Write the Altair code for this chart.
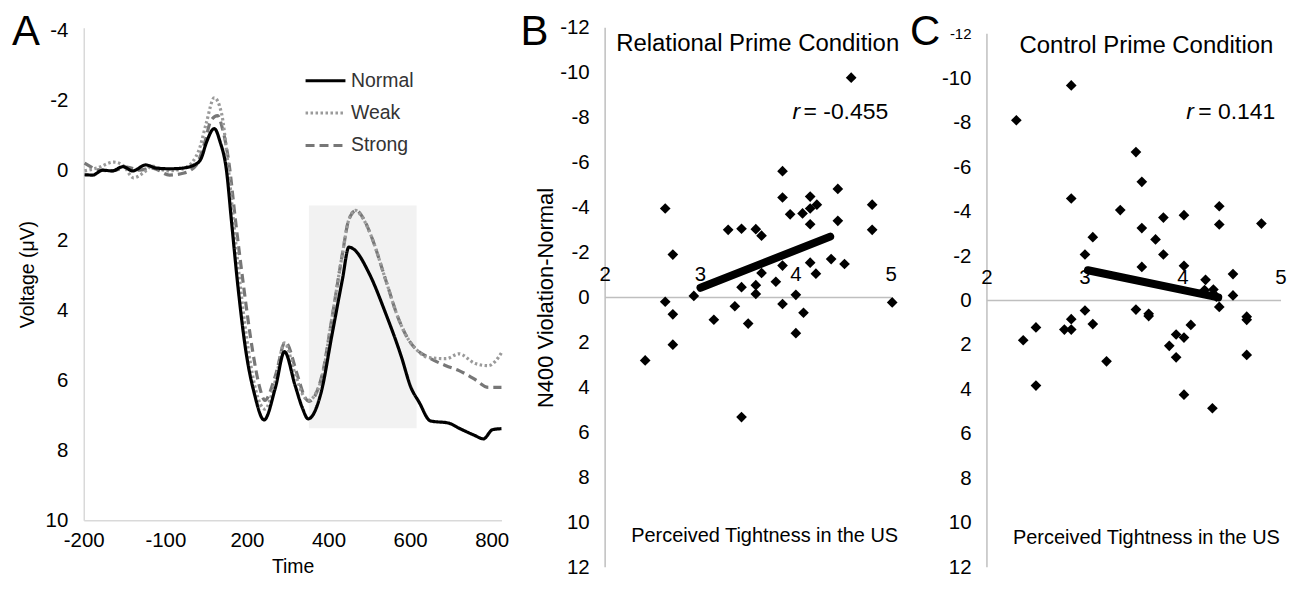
import json
import altair as alt
import pandas as pd

FONT = "Liberation Sans"

# ---------------- Panel A : ERP waveforms ----------------
series_names = ["Normal", "Weak", "Strong"]
series_colors = ["#000000", "#9a9a9a", "#777777"]
series_dashes = [[1, 0], [2.5, 2.5], [9, 5]]
time_tick_pos = [0, 1, 2, 3, 4, 5]
time_tick_labels = ["-200", "-100", "200", "400", "600", "800"]

normal_pos = [0.01, 0.11, 0.23, 0.35, 0.48, 0.60, 0.76, 0.89, 1.05, 1.21, 1.37, 1.44, 1.50, 1.60,
              1.67, 1.75, 1.81, 1.89, 1.99, 2.09, 2.21, 2.35, 2.46, 2.59, 2.68, 2.75, 2.91, 3.04,
              3.17, 3.25, 3.31, 3.50, 3.70, 3.89, 4.01, 4.11, 4.25, 4.47, 4.62, 4.78, 4.90, 5.01, 5.12]
normal_uv = [0.12, 0.13, -0.01, 0.01, -0.11, 0.01, -0.16, -0.07, -0.05, -0.07, -0.18, -0.35, -0.78, -1.20,
             -0.83, 0.01, 1.43, 3.32, 5.21, 6.37, 7.13, 6.20, 5.18, 6.14, 6.79, 7.10, 6.34, 4.73,
             3.12, 2.19, 2.25, 2.95, 4.08, 5.30, 6.20, 6.62, 7.16, 7.22, 7.39, 7.56, 7.67, 7.41, 7.38]

weak_pos = [0.01, 0.16, 0.37, 0.49, 0.61, 0.73, 0.84, 1.01, 1.20, 1.32, 1.42, 1.50, 1.60, 1.69,
            1.76, 1.82, 1.92, 2.02, 2.11, 2.22, 2.35, 2.46, 2.59, 2.69, 2.75, 2.91, 3.04, 3.17,
            3.25, 3.33, 3.40, 3.53, 3.70, 3.86, 3.99, 4.07, 4.23, 4.44, 4.60, 4.80, 4.96, 5.05, 5.12]
weak_uv = [0.01, -0.07, -0.24, -0.13, 0.21, 0.07, -0.13, 0.01, -0.04, -0.21, -0.64, -1.34, -2.08, -1.62,
           -0.35, 1.06, 3.32, 5.16, 6.29, 6.82, 6.00, 4.93, 5.81, 6.43, 6.57, 6.00, 4.25, 2.39,
           1.40, 1.14, 1.29, 1.91, 3.12, 4.25, 4.87, 5.10, 5.35, 5.38, 5.24, 5.52, 5.58, 5.44, 5.21]

strong_pos = [0.01, 0.20, 0.35, 0.53, 0.68, 0.84, 1.05, 1.23, 1.38, 1.48, 1.56, 1.64, 1.70, 1.78,
              1.86, 1.96, 2.07, 2.15, 2.22, 2.35, 2.47, 2.62, 2.70, 2.76, 2.92, 3.04, 3.17, 3.25,
              3.34, 3.42, 3.53, 3.70, 3.86, 3.99, 4.07, 4.23, 4.44, 4.60, 4.78, 4.96, 5.12]
strong_uv = [-0.21, -0.01, 0.01, -0.10, -0.01, -0.07, 0.13, 0.07, -0.16, -0.78, -1.43, -1.57, -1.20, -0.21,
             1.43, 3.32, 5.16, 6.14, 6.57, 5.86, 4.90, 5.86, 6.43, 6.60, 5.86, 4.25, 2.39, 1.40,
             1.14, 1.34, 1.91, 3.12, 4.25, 4.87, 5.10, 5.35, 5.58, 5.72, 5.95, 6.20, 6.20]

window_pos = [2.76, 4.08]
window_uv = [1.0, 7.37]

# ---------------- Panel B : relational prime ----------------
rel_tight = [4.58, 3.86, 4.44, 2.63, 4.80, 3.86, 4.15, 4.22, 4.15, 4.07, 3.94, 4.15, 4.44, 4.80, 3.29,
             3.43, 3.58, 3.64, 2.71, 3.86, 4.15, 4.37, 4.51, 3.64, 4.21, 3.79, 3.43, 3.58,
             3.58, 4.00, 2.93, 2.63, 5.01, 3.36, 3.86, 2.71, 4.08, 3.14, 3.50, 4.00, 2.71, 2.42, 3.43]
rel_n400 = [-9.78, -5.62, -4.83, -3.96, -4.13, -4.45, -4.49, -4.13, -3.96, -3.74, -3.70, -3.26, -3.41, -3.01, -3.01,
            -3.06, -3.04, -2.75, -1.91, -1.42, -1.55, -1.71, -1.49, -1.09, -1.06, -0.70, -0.46, -0.55,
            -0.16, -0.12, -0.07, 0.19, 0.22, 0.39, 0.29, 0.75, 0.68, 0.99, 1.16, 1.59, 2.10, 2.80, 5.32]
rel_fit_tight = [3.0, 4.36]
rel_fit_n400 = [-0.43, -2.71]

# ---------------- Panel C : control prime ----------------
ctl_tight = [2.86, 2.30, 3.52, 3.58, 2.86, 3.36, 4.37, 4.01, 3.80, 4.37, 4.80, 3.58, 3.72, 3.08, 3.00,
             3.80, 3.58, 4.01, 4.51, 4.23,
             4.22, 4.31, 4.34, 4.51, 4.37, 3.00, 3.52, 3.65, 3.65, 4.65, 4.65, 2.86, 2.50, 2.79, 2.86,
             3.08, 4.08, 3.93, 4.01, 2.37, 3.86, 3.93, 4.65, 3.22, 2.50, 4.01, 4.30]
ctl_n400 = [-9.68, -8.11, -6.68, -5.34, -4.59, -4.07, -4.24, -3.84, -3.73, -3.42, -3.46, -3.26, -2.75, -2.85, -2.07,
            -2.07, -1.51, -1.56, -1.19, -0.93,
            -0.47, -0.49, -0.17, -0.23, 0.29, 0.45, 0.41, 0.60, 0.70, 0.73, 0.87, 0.84, 1.21, 1.31, 1.31,
            1.06, 1.10, 1.53, 1.67, 1.79, 2.04, 2.56, 2.45, 2.74, 3.83, 4.24, 4.85]
ctl_fit_tight = [3.03, 4.36]
ctl_fit_n400 = [-1.36, -0.14]

tight_ticks = [2, 3, 4, 5]
n400_ticks = list(range(-12, 13, 2))
uv_ticks = list(range(-4, 11, 2))

LABEL_SIZE = 20.5
LETTER_SIZE = 42
LETTER_Y = 17.5
PLAIN = "'' + datum.value"

# ================= build panel A =================
rows = []
for name, xs, ys in [("Strong", strong_pos, strong_uv), ("Weak", weak_pos, weak_uv), ("Normal", normal_pos, normal_uv)]:
    for i, (x, y) in enumerate(zip(xs, ys)):
        rows.append({"series": name, "pos": x, "uv": y, "i": i})
erp = pd.DataFrame(rows)

xa = alt.Scale(domain=[0, 5.12], nice=False, zero=False)
ya = alt.Scale(domain=[-4.08, 10], reverse=True, nice=False, zero=False)

label_expr = json.dumps(time_tick_labels) + "[datum.value]"

win_df = pd.DataFrame({"x1": [window_pos[0]], "x2": [window_pos[1]], "y1": [window_uv[0]], "y2": [window_uv[1]]})
box = alt.Chart(win_df).mark_rect(color="#f2f2f2").encode(
    x=alt.X("x1:Q", scale=xa,
            axis=alt.Axis(values=time_tick_pos, labelExpr=label_expr, title="Time", ticks=False, grid=False,
                          labelFlush=False, domainColor="#d9d9d9", domainWidth=1.5, labelFontSize=LABEL_SIZE,
                          titleFontSize=19.5, labelPadding=10, titlePadding=7, titleFontWeight="normal")),
    x2="x2:Q",
    y=alt.Y("y1:Q", scale=ya,
            axis=alt.Axis(values=uv_ticks, labelExpr=PLAIN, title="Voltage (μV)", ticks=False, grid=False,
                          domainColor="#d9d9d9", domainWidth=1.5, labelFontSize=LABEL_SIZE, titleFontSize=19.5,
                          labelPadding=16, titlePadding=8, titleFontWeight="normal")),
    y2="y2:Q",
)

leg = alt.Legend(orient="none", legendX=221, legendY=31.5, title=None, symbolType="stroke",
                 symbolSize=1600, symbolStrokeWidth=3, labelFontSize=19.5, labelFont=FONT,
                 labelColor="#333333", rowPadding=1.5, labelOffset=4)
lines = alt.Chart(erp).mark_line(interpolate="monotone", strokeWidth=3.2).encode(
    x=alt.X("pos:Q", scale=xa),
    y=alt.Y("uv:Q", scale=ya),
    color=alt.Color("series:N", scale=alt.Scale(domain=series_names, range=series_colors), legend=leg),
    strokeDash=alt.StrokeDash("series:N", scale=alt.Scale(domain=series_names, range=series_dashes), legend=leg),
    order="i:Q",
)

letter_a = alt.Chart(pd.DataFrame({"t": ["A"]})).mark_text(
    fontSize=LETTER_SIZE, font=FONT, align="center", baseline="alphabetic").encode(
    text="t:N", x=alt.value(-58), y=alt.value(LETTER_Y))

panel_a = alt.layer(box, lines, letter_a).properties(width=419, height=494)


# ================= scatter panel builder =================
def scatter_panel(xs, ys, fx, fy, ydom, height, width, title_txt, title_pos, r_val, r_pos, letter, letter_x,
                  ytitle, xtitle_pos, top_label_size):
    xs_scale = alt.Scale(domain=[2, 5], nice=False, zero=False)
    ys_scale = alt.Scale(domain=ydom, reverse=True, nice=False, zero=False)
    yaxis_kwargs = dict(values=n400_ticks, labelExpr=PLAIN, ticks=False, grid=False, domain=False,
                        labelFontSize={"condition": {"test": "datum.value == -12", "value": top_label_size},
                                       "value": LABEL_SIZE},
                        labelPadding=16, titleFontSize=22, titleFontWeight="normal", titlePadding=2)
    pts = pd.DataFrame({"tight": xs, "n400": ys})
    vline = pd.DataFrame({"x": [2], "y": [-12], "y2": [12]})
    hline = pd.DataFrame({"x": [2], "x2": [5], "y": [0]})
    fit = pd.DataFrame({"tight": fx, "n400": fy})
    ticks = pd.DataFrame({"t": tight_ticks, "lab": [str(v) for v in tight_ticks], "zero": [0] * len(tight_ticks)})

    base_y = alt.Y("y:Q", scale=ys_scale,
                   axis=alt.Axis(title=ytitle, **yaxis_kwargs) if ytitle else alt.Axis(title=None, **yaxis_kwargs))
    vrule = alt.Chart(vline).mark_rule(color="#bfbfbf", strokeWidth=1.5).encode(
        x=alt.X("x:Q", scale=xs_scale, axis=None), y=base_y, y2="y2:Q")
    hrule = alt.Chart(hline).mark_rule(color="#bfbfbf", strokeWidth=1.5).encode(
        x=alt.X("x:Q", scale=xs_scale, axis=None), x2="x2:Q", y=alt.Y("y:Q", scale=ys_scale))
    tick_txt = alt.Chart(ticks).mark_text(fontSize=LABEL_SIZE, font=FONT, dy=-23, baseline="middle").encode(
        x=alt.X("t:Q", scale=xs_scale), y=alt.Y("zero:Q", scale=ys_scale), text="lab:N")
    dots = alt.Chart(pts).mark_point(shape="diamond", filled=True, size=115, color="#000000", opacity=1).encode(
        x=alt.X("tight:Q", scale=xs_scale), y=alt.Y("n400:Q", scale=ys_scale))
    fitl = alt.Chart(fit).mark_line(color="#000000", strokeWidth=8, strokeCap="round").encode(
        x=alt.X("tight:Q", scale=xs_scale), y=alt.Y("n400:Q", scale=ys_scale))

    def note(txt, pos, size, align="center", style="normal"):
        return alt.Chart(pd.DataFrame({"t": [txt]})).mark_text(
            fontSize=size, font=FONT, align=align, baseline="middle", fontStyle=style).encode(
            text="t:N", x=alt.value(pos[0]), y=alt.value(pos[1]))

    title_m = note(title_txt, title_pos, 24)
    r_m = note("r", r_pos[0], 23, align="left", style="italic")
    rv_m = note(r_val, r_pos[1], 23, align="left")
    xt_m = note("Perceived Tightness in the US", xtitle_pos, 20)
    let = alt.Chart(pd.DataFrame({"t": [letter]})).mark_text(
        fontSize=LETTER_SIZE, font=FONT, align="center", baseline="alphabetic").encode(
        text="t:N", x=alt.value(letter_x), y=alt.value(LETTER_Y))
    return alt.layer(vrule, hrule, tick_txt, fitl, dots, title_m, r_m, rv_m, xt_m, let).properties(
        width=width, height=height)


panel_b = scatter_panel(rel_tight, rel_n400, rel_fit_tight, rel_fit_n400, [-12, 12], 541, 287,
                        "Relational Prime Condition", (153, 16), "= -0.455", ((188, 84), (199, 84)),
                        "B", -71, "N400 Violation-Normal", (160, 510), LABEL_SIZE)
panel_c = scatter_panel(ctl_tight, ctl_n400, ctl_fit_tight, ctl_fit_n400, [-12.27, 12], 541, 295,
                        "Control Prime Condition", (160, 18), "= 0.141", ((200, 84), (212, 84)),
                        "C", -62, None, (160, 512), 15)

right = alt.hconcat(panel_b, panel_c, spacing=96, bounds="flush")
chart = alt.hconcat(panel_a, right, spacing=104, bounds="flush").resolve_scale(
    x="independent", y="independent").configure(
    padding={"left": 3, "top": 2, "right": 0, "bottom": 0}, font=FONT).configure_view(
    stroke=None).configure_axis(labelFont=FONT, titleFont=FONT, labelColor="#000000", titleColor="#000000")

chart.save("out.html", embed_options={"renderer": "svg", "actions": False})
